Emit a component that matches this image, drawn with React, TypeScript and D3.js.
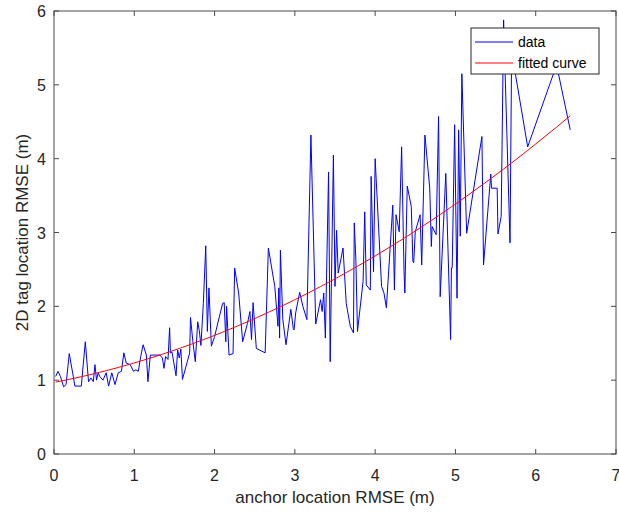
import React from "react";
import * as d3 from "d3";

const dataX = [
  0.02, 0.05, 0.08, 0.12, 0.15, 0.19, 0.24, 0.26, 0.34, 0.39, 0.43, 0.46, 0.49, 0.51, 0.53, 0.55, 0.57, 0.61, 0.65, 0.68,
  0.72, 0.76, 0.80, 0.84, 0.87, 0.90, 0.95, 0.99, 1.02, 1.05, 1.08, 1.11, 1.15, 1.17, 1.20, 1.32, 1.35, 1.37, 1.39, 1.42,
  1.44, 1.45, 1.47, 1.52, 1.54, 1.56, 1.58, 1.60, 1.69, 1.70, 1.73, 1.76, 1.79, 1.81, 1.83, 1.86, 1.89, 1.91, 1.93, 1.96,
  2.00, 2.10, 2.12, 2.14, 2.15, 2.18, 2.23, 2.25, 2.30, 2.35, 2.41, 2.44, 2.46, 2.48, 2.52, 2.63, 2.67, 2.75, 2.79, 2.80,
  2.81, 2.82, 2.85, 2.89, 2.95, 2.98, 2.99, 3.01, 3.06, 3.10, 3.15, 3.20, 3.26, 3.32, 3.34, 3.36, 3.38, 3.42, 3.44, 3.48,
  3.50, 3.52, 3.54, 3.60, 3.64, 3.69, 3.73, 3.74, 3.76, 3.78, 3.85, 3.87, 3.89, 3.94, 3.95, 3.98, 4.00, 4.08, 4.11, 4.14,
  4.22, 4.24, 4.26, 4.30, 4.33, 4.36, 4.37, 4.40, 4.45, 4.47, 4.48, 4.50, 4.56, 4.58, 4.62, 4.68, 4.70, 4.71, 4.76, 4.79,
  4.81, 4.88, 4.94, 4.95, 4.96, 4.99, 5.02, 5.04, 5.06, 5.08, 5.14, 5.33, 5.35, 5.44, 5.45, 5.52, 5.53, 5.57, 5.60, 5.68,
  5.70, 5.90, 6.26, 6.43,
];

const dataY = [
  1.05, 1.12, 1.05, 0.91, 0.94, 1.36, 1.05, 0.92, 0.92, 1.52, 0.98, 1.03, 0.98, 1.21, 1.00, 1.10, 1.05, 1.00, 1.10, 0.92,
  1.10, 0.94, 1.10, 1.12, 1.37, 1.23, 1.21, 1.12, 1.14, 1.12, 1.32, 1.48, 1.34, 0.98, 1.34, 1.34, 1.30, 1.16, 1.32, 1.28,
  1.71, 1.37, 1.38, 1.06, 1.41, 1.30, 1.42, 1.01, 1.37, 1.85, 1.52, 1.25, 1.79, 1.67, 1.47, 2.04, 2.82, 1.66, 2.25, 1.46,
  1.59, 2.04, 2.05, 1.52, 2.00, 1.34, 1.36, 2.52, 2.18, 1.52, 1.77, 1.93, 1.55, 2.05, 1.43, 1.37, 2.79, 2.27, 1.73, 2.25,
  1.57, 2.76, 1.82, 1.48, 1.96, 1.70, 1.68, 1.91, 2.19, 2.00, 1.82, 4.32, 1.76, 2.09, 1.93, 2.18, 1.57, 3.82, 1.25, 4.05,
  2.27, 3.03, 2.45, 2.79, 2.04, 1.73, 1.64, 3.13, 2.63, 1.66, 2.34, 3.28, 2.29, 2.22, 3.76, 2.47, 4.00, 2.27, 2.18, 1.98,
  3.37, 2.22, 3.24, 3.01, 4.16, 2.47, 2.18, 3.63, 3.35, 2.61, 2.59, 3.01, 3.24, 2.56, 4.32, 3.60, 2.81, 3.08, 2.97, 4.57,
  2.13, 3.80, 1.55, 2.52, 2.52, 4.46, 2.11, 4.39, 2.95, 5.15, 2.99, 4.30, 2.56, 3.79, 3.60, 3.60, 2.98, 3.22, 5.88, 2.86,
  5.45, 4.16, 5.27, 4.39,
];

// fitted quadratic coefficients: y = c0 + c1*x + c2*x^2
const fitCoef = [0.97, 0.2086, 0.0549];

const xTicks = [0, 1, 2, 3, 4, 5, 6, 7];
const yTicks = [0, 1, 2, 3, 4, 5, 6];
const legendLabels = ["data", "fitted curve"];

const W = 619;
const H = 515;
const left = 54;
const right = 616;
const top = 11;
const bottom = 454;
const axisColor = "#4a4a4a";
const textColor = "#262626";
const font = "'Liberation Sans', Arial, Helvetica, sans-serif";

export default function App() {
  const x = d3.scaleLinear().domain([0, 7]).range([left, right]);
  const y = d3.scaleLinear().domain([0, 6]).range([bottom, top]);

  const pts: [number, number][] = dataX.map((v, i) => [v, dataY[i]]);
  const line = d3
    .line<[number, number]>()
    .x((d) => x(d[0]))
    .y((d) => y(d[1]));

  const fitPts: [number, number][] = dataX.map((v) => [v, fitCoef[0] + fitCoef[1] * v + fitCoef[2] * v * v]);

  const tickLen = 5;
  const lx = 471;
  const ly = 28;
  const lw = 128;
  const lh = 46;

  return (
    <svg
      width={W}
      height={H}
      style={{ position: "absolute", left: 0, top: 0, background: "#fff" }}
      fontFamily={font}
    >
      <rect x={0} y={0} width={W} height={H} fill="#fff" />
      <rect x={left} y={top} width={right - left} height={bottom - top} fill="#fff" />
      <path d={line(pts) || ""} fill="none" stroke="#0000ff" strokeWidth={1} strokeLinejoin="round" />
      <path d={line(fitPts) || ""} fill="none" stroke="#ff0000" strokeWidth={1} />

      {/* box */}
      <rect x={left} y={top} width={right - left} height={bottom - top} fill="none" stroke={axisColor} strokeWidth={1} />

      {xTicks.map((t) => (
        <g key={"x" + t}>
          <line x1={x(t)} x2={x(t)} y1={bottom} y2={bottom - tickLen} stroke={axisColor} />
          <line x1={x(t)} x2={x(t)} y1={top} y2={top + tickLen} stroke={axisColor} />
          <text x={x(t)} y={481} textAnchor="middle" fontSize={16} fill={textColor}>
            {t}
          </text>
        </g>
      ))}
      {yTicks.map((t) => (
        <g key={"y" + t}>
          <line x1={left} x2={left + tickLen} y1={y(t)} y2={y(t)} stroke={axisColor} />
          <line x1={right} x2={right - tickLen} y1={y(t)} y2={y(t)} stroke={axisColor} />
          <text x={46} y={y(t) + 6} textAnchor="end" fontSize={16} fill={textColor}>
            {t}
          </text>
        </g>
      ))}

      <text x={(left + right) / 2} y={503} textAnchor="middle" fontSize={17} fill={textColor}>
        anchor location RMSE (m)
      </text>
      <text
        transform={`translate(28, ${(top + bottom) / 2}) rotate(-90)`}
        textAnchor="middle"
        fontSize={17}
        fill={textColor}
      >
        2D tag location RMSE (m)
      </text>

      {/* legend */}
      <rect x={lx} y={ly} width={lw} height={lh} fill="#fff" stroke="#262626" strokeWidth={1} />
      {legendLabels.map((lab, i) => (
        <g key={lab}>
          <line
            x1={lx + 4}
            x2={lx + 42}
            y1={ly + 14 + i * 21}
            y2={ly + 14 + i * 21}
            stroke={i === 0 ? "#0000ff" : "#ff0000"}
            strokeWidth={1}
          />
          <text x={lx + 47} y={ly + 19 + i * 21} fontSize={14} fill="#000">
            {lab}
          </text>
        </g>
      ))}
    </svg>
  );
}
